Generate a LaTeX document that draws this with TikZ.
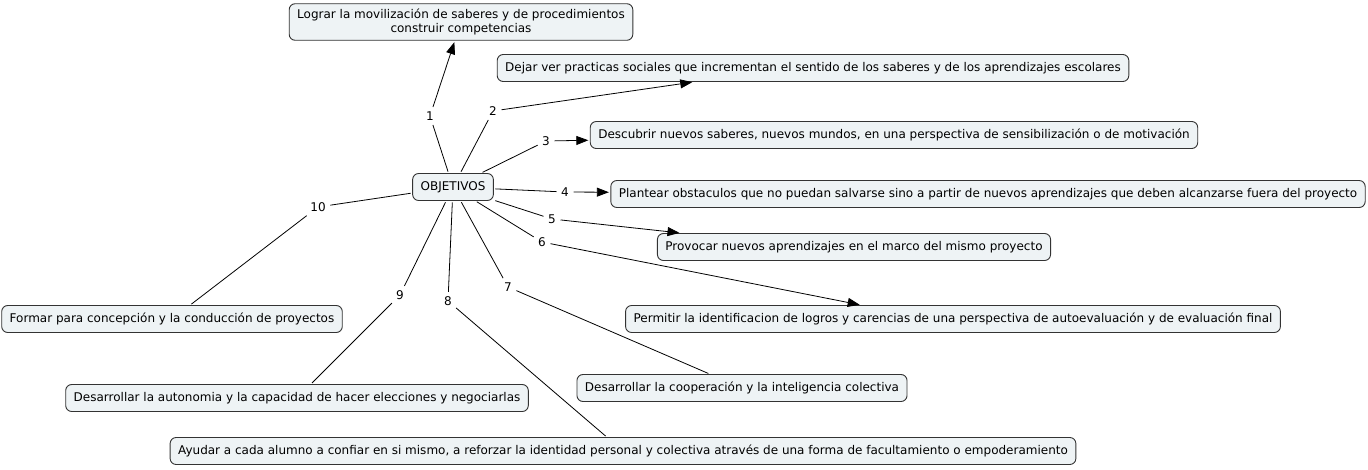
\documentclass[tikz,border=0pt]{standalone}
\usepackage{fontspec}
\setmainfont{DejaVu Sans}
\usetikzlibrary{arrows.meta}

\definecolor{conceptfill}{RGB}{238,243,245}
\definecolor{conceptline}{RGB}{51,51,51}

\tikzset{
  concept/.style={draw=conceptline, fill=conceptfill, line width=0.9pt,
    rounded corners=6pt, inner xsep=8pt, inner ysep=5pt, align=center,
    minimum height=27pt, font=\fontsize{12}{14.5}\selectfont},
  linkword/.style={inner sep=3pt, font=\fontsize{12}{14.5}\selectfont},
  link/.style={draw=black, line width=0.8pt, shorten <=1.5pt, shorten >=1.5pt},
  arrowlink/.style={link, -{Triangle[length=12pt,width=9pt]}},
}

\begin{document}
\begin{tikzpicture}[x=1pt, y=-1pt]
  \useasboundingbox (0,0) rectangle (1368,469);

  % concepts
  \node[concept] (obj) at (453,187) {OBJETIVOS};
  \node[concept] (n1) at (461,22) {Lograr la movilización de saberes y de procedimientos\\construir competencias};
  \node[concept] (n2) at (813,68) {Dejar ver practicas sociales que incrementan el sentido de los saberes y de los aprendizajes escolares};
  \node[concept] (n3) at (894,135) {Descubrir nuevos saberes, nuevos mundos, en una perspectiva de sensibilización o de motivación};
  \node[concept] (n4) at (988,194) {Plantear obstaculos que no puedan salvarse sino a partir de nuevos aprendizajes que deben alcanzarse fuera del proyecto};
  \node[concept] (n5) at (854,247) {Provocar nuevos aprendizajes en el marco del mismo proyecto};
  \node[concept] (n6) at (953,319) {Permitir la identificacion de logros y carencias de una perspectiva de autoevaluación y de evaluación final};
  \node[concept] (n7) at (742,388) {Desarrollar la cooperación y la inteligencia colectiva};
  \node[concept] (n8) at (623,451) {Ayudar a cada alumno a confiar en si mismo, a reforzar la identidad personal y colectiva através de una forma de facultamiento o empoderamiento};
  \node[concept] (n9) at (297,398) {Desarrollar la autonomia y la capacidad de hacer elecciones y negociarlas};
  \node[concept] (n10) at (172,319) {Formar para concepción y la conducción de proyectos};

  % linking words
  \node[linkword] (l1) at (430,116) {1};
  \node[linkword] (l2) at (493,111) {2};
  \node[linkword] (l3) at (546,141) {3};
  \node[linkword] (l4) at (565,192) {4};
  \node[linkword] (l5) at (552,219) {5};
  \node[linkword] (l6) at (542,242) {6};
  \node[linkword] (l7) at (508,287) {7};
  \node[linkword] (l8) at (448,301) {8};
  \node[linkword] (l9) at (400,295) {9};
  \node[linkword] (l10) at (318,207) {10};

  % connections
  \foreach \i in {1,...,10}
    \draw[link] (obj) -- (l\i);
  \draw[arrowlink] (l1) -- (n1);
  \draw[arrowlink] (l2) -- ([xshift=197pt]n2.south west);
  \draw[arrowlink] (l3) -- (n3);
  \draw[arrowlink] (l4) -- (n4);
  \draw[arrowlink] (l5) -- ([xshift=24pt]n5.north west);
  \draw[arrowlink] (l6) -- ([xshift=236pt]n6.north west);
  \draw[link] (l7) -- (n7);
  \draw[link] (l8) -- (n8);
  \draw[link] (l9) -- (n9);
  \draw[link] (l10) -- (n10);
\end{tikzpicture}
\end{document}
